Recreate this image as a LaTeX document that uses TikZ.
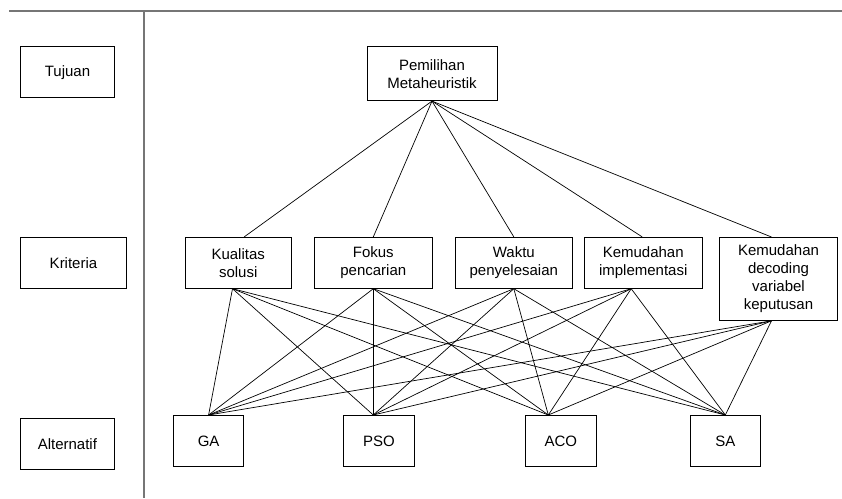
\documentclass[tikz,border=0pt]{standalone}
\usepackage{fontspec}
\setmainfont{Liberation Sans}
\definecolor{sepgray}{RGB}{118,118,118}
\begin{document}
\begin{tikzpicture}[x=1pt,y=-1pt,
  box/.style={draw=black, line width=0.8pt, align=center, inner sep=0pt,
    minimum height=51pt, font=\fontsize{15}{18}\selectfont},
  link/.style={draw=black, line width=0.7pt},
  sep/.style={draw=sepgray, line width=1.5pt}]
\useasboundingbox (0,0) rectangle (842,498);
% separators
\coordinate (hl) at (9,11);
\coordinate (hr) at (842,11);
\coordinate (vt) at (144,11);
\coordinate (vb) at (144,498);
\draw[sep] (hl) -- (hr);
\draw[sep] (vt) -- (vb);
% level labels
\node[box, minimum width=94pt] (tujuan) at (67.5,72.2) {Tujuan};
\node[box, minimum width=106pt] (kriteria) at (73.5,262.8) {Kriteria};
\node[box, minimum width=94pt] (alt) at (67.4,443.8) {Alternatif};
% goal
\node[box, minimum width=130pt, minimum height=54pt] (goal) at (432,73.7) {Pemilihan\\Metaheuristik};
% criteria
\node[box, minimum width=106pt] (k1) at (238.2,262.8) {Kualitas\\solusi};
\node[box, minimum width=118pt] (k2) at (373.3,262.8) {Fokus\\pencarian};
\node[box, minimum width=117pt] (k3) at (513.8,262.8) {Waktu\\penyelesaian};
\node[box, minimum width=118pt] (k4) at (643.2,262.8) {Kemudahan\\implementasi};
\node[box, minimum width=118pt, minimum height=83pt] (k5) at (778.5,278.9) {Kemudahan\\decoding\\variabel\\keputusan};
% alternatives
\node[box, minimum width=70.5pt] (ga) at (208.6,440.9) {GA};
\node[box, minimum width=70.5pt] (pso) at (379,440.9) {PSO};
\node[box, minimum width=70.5pt] (aco) at (560.9,440.9) {ACO};
\node[box, minimum width=70.5pt] (sa) at (725.3,440.9) {SA};
% goal to criteria
\foreach \c/\o in {k1/6pt,k2/0pt,k3/0pt,k4/-1pt,k5/-7pt}
  \draw[link] (goal.south) -- ([xshift=\o]\c.north);
% criteria to alternatives
\foreach \c/\o in {k1/-5.7pt,k2/0pt,k3/0pt,k4/-12pt,k5/-7pt}
  \foreach \a/\p in {ga/0pt,pso/-5.7pt,aco/-12.6pt,sa/0pt}
    \draw[link] ([xshift=\o]\c.south) -- ([xshift=\p]\a.north);
\end{tikzpicture}
\end{document}
